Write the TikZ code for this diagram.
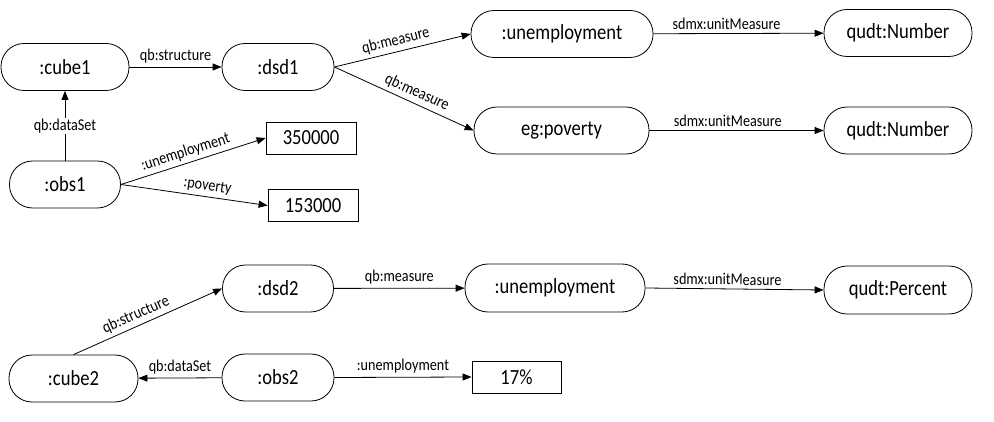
\documentclass[tikz,border=0pt]{standalone}
\usepackage{fontspec}
\setmainfont{Carlito}
\newfontfamily\narrowff[FakeStretch=0.86]{Carlito}
\usetikzlibrary{arrows.meta}
\newcommand{\nodefont}{\narrowff\fontsize{21.6}{24}\selectfont}
\newcommand{\labfont}{\narrowff\fontsize{16.5}{18}\selectfont}
\tikzset{
  rnode/.style={draw, line width=0.8pt, rounded corners=23pt, minimum height=47pt, inner sep=2pt, font=\nodefont},
  vbox/.style={draw, line width=0.8pt, rectangle, minimum width=89pt, minimum height=32pt, inner sep=2pt, font=\nodefont},
  conn/.style={draw, line width=0.8pt, -{Triangle[length=9pt,width=7pt]}},
  lab/.style={font=\labfont, inner sep=1pt, above=2.5pt, sloped}
}
\begin{document}
\begin{tikzpicture}[x=1pt,y=-1pt]
\useasboundingbox (0,0) rectangle (994,422);
% top part
\node[rnode, minimum width=128pt] (cube1) at (65,67) {:cube1};
\node[rnode, minimum width=112pt] (dsd1) at (278,67) {:dsd1};
\node[rnode, minimum width=182pt] (unemp1) at (562,34) {:unemployment};
\node[rnode, minimum width=148pt] (qudt1) at (898,33) {qudt:Number};
\node[rnode, minimum width=175pt] (pov) at (561.5,130.5) {eg:poverty};
\node[rnode, minimum width=148pt] (qudt2) at (898,130.5) {qudt:Number};
\node[rnode, minimum width=111pt] (obs1) at (65,184.5) {:obs1};
\node[vbox, minimum width=90pt] (v1) at (311,138) {350000};
\node[vbox, minimum width=90pt] (v2) at (313,205.5) {153000};

\draw[conn] (cube1) -- node[lab] {qb:structure} (dsd1);
\draw[conn] (obs1) -- node[font=\labfont, fill=white, inner sep=1pt] {qb:dataSet} (cube1);
\draw[conn] (dsd1.east) -- node[lab, pos=0.47] {qb:measure} (unemp1.west);
\draw[conn] (dsd1.east) -- node[lab, pos=0.56] {qb:measure} (pov.west);
\draw[conn] (unemp1) -- node[lab, pos=0.43] {sdmx:unitMeasure} (qudt1);
\draw[conn] (pov) -- node[lab, pos=0.45] {sdmx:unitMeasure} (qudt2);
\draw[conn] (obs1.east) -- node[lab, pos=0.47] {:unemployment} (v1.west);
\draw[conn] (obs1.east) -- node[lab, pos=0.58] {:poverty} (v2.west);

% bottom part
\node[rnode, minimum width=111pt] (dsd2) at (278,288.5) {:dsd2};
\node[rnode, minimum width=129pt] (cube2) at (73.5,378.5) {:cube2};
\node[rnode, minimum width=112pt] (obs2) at (278,377.5) {:obs2};
\node[rnode, minimum width=180pt, minimum height=48pt] (unemp2) at (555,288) {:unemployment};
\node[vbox] (v3) at (516.5,377) {17\%};
\node[rnode, minimum width=148pt, minimum height=48pt] (qudt3) at (898,290) {qudt:Percent};

\draw[conn] (cube2.north) -- node[lab, pos=0.45] {qb:structure} (dsd2.west);
\draw[conn] (obs2) -- node[font=\labfont, inner sep=1pt, above=2.5pt] {qb:dataSet} (cube2);
\draw[conn] (dsd2) -- node[lab] {qb:measure} (unemp2);
\draw[conn] (unemp2.east) -- node[lab, pos=0.46] {sdmx:unitMeasure} (qudt3.west);
\draw[conn] (obs2.east) -- node[lab] {:unemployment} (v3.west);
\end{tikzpicture}
\end{document}
